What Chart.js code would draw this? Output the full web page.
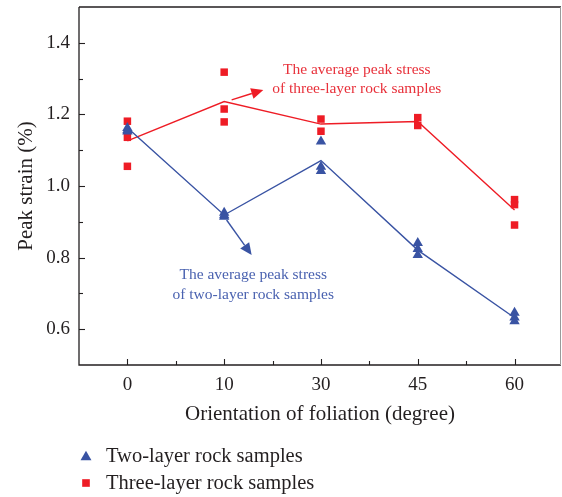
<!DOCTYPE html>
<html>
<head>
<meta charset="utf-8">
<script src="https://cdn.jsdelivr.net/npm/chart.js@4/dist/chart.umd.min.js"></script>
<style>
  html, body { margin: 0; padding: 0; background: #ffffff; }
  #wrap { width: 562px; height: 497px; position: relative; }
</style>
</head>
<body>
<div id="wrap"><canvas id="c"></canvas></div>
<script>
// Foliation orientations (degrees) shown as evenly spaced categories
const categories = ['0', '10', '30', '45', '60'];
const yTickLabels = ['0.6', '0.8', '1.0', '1.2', '1.4'];

// Individual peak strain measurements (%) per orientation
const twoLayerSamples = [
  [1.162, 1.156, 1.152],
  [0.925, 0.918, 0.914],
  [1.124, 1.054, 1.042],
  [0.841, 0.824, 0.807],
  [0.646, 0.633, 0.622]
];
const threeLayerSamples = [
  [1.181, 1.136, 1.055],
  [1.318, 1.215, 1.179],
  [1.187, 1.153],
  [1.191, 1.169],
  [0.962, 0.948, 0.891]
];

// Average peak strain lines
const twoLayerMean = [1.163, 0.919, 1.071, 0.821, 0.632];
const threeLayerMean = [1.126, 1.236, 1.173, 1.180, 0.933];

const seriesNames = ['Two-layer rock samples', 'Three-layer rock samples'];

// Callout notes: anchor in data units (x index, strain), text lines
const threeNoteAnchor = [2.37, 1.3245];
const threeNoteLines = ['The average peak stress', 'of three-layer rock samples'];
const twoNoteAnchor = [1.30, 0.751];
const twoNoteLines = ['The average peak stress', 'of two-layer rock samples'];

// Callout arrows: [from, to] in data units
const threeArrow = [[1.077, 1.2405], [1.404, 1.2685]];
const twoArrow = [[1.025, 0.905], [1.284, 0.807]];

const BLUE = '#3953a3';
const RED = '#ee1c25';
const BLUE_TEXT = '#4a62b0';
const RED_TEXT = '#e8313b';
const INK = '#231f20';
const FONT = "'Liberation Serif', 'Times New Roman', serif";

function toPoints(groups) {
  const pts = [];
  groups.forEach((vals, i) => vals.forEach(v => pts.push({ x: i, y: v })));
  return pts;
}
function toLine(vals) {
  return vals.map((v, i) => ({ x: i, y: v }));
}

function drawMarker(ctx, style, r, x, y, color) {
  ctx.save();
  ctx.fillStyle = color;
  ctx.beginPath();
  if (style === 'triangle') {
    ctx.moveTo(x, y - r);
    ctx.lineTo(x + r * Math.sqrt(3) / 2, y + r / 2);
    ctx.lineTo(x - r * Math.sqrt(3) / 2, y + r / 2);
    ctx.closePath();
  } else {
    const s = r * Math.SQRT1_2;
    ctx.rect(x - s, y - s, 2 * s, 2 * s);
  }
  ctx.fill();
  ctx.restore();
}

function drawArrow(ctx, x0, y0, x1, y1, color) {
  const ang = Math.atan2(y1 - y0, x1 - x0);
  const headLen = 12, headHalf = 5.5;
  const bx = x1 - headLen * Math.cos(ang), by = y1 - headLen * Math.sin(ang);
  ctx.save();
  ctx.strokeStyle = color;
  ctx.fillStyle = color;
  ctx.lineWidth = 1.4;
  ctx.beginPath();
  ctx.moveTo(x0, y0);
  ctx.lineTo(bx, by);
  ctx.stroke();
  ctx.beginPath();
  ctx.moveTo(x1, y1);
  ctx.lineTo(bx + headHalf * Math.sin(ang), by - headHalf * Math.cos(ang));
  ctx.lineTo(bx - headHalf * Math.sin(ang), by + headHalf * Math.cos(ang));
  ctx.closePath();
  ctx.fill();
  ctx.restore();
}

// Frame with inward major/minor ticks
const framePlugin = {
  id: 'frame',
  afterDraw(chart) {
    const { ctx, chartArea: a, scales } = chart;
    ctx.save();
    ctx.lineWidth = 1.3;
    ctx.strokeStyle = INK;
    ctx.beginPath();
    ctx.moveTo(a.left, a.top); ctx.lineTo(a.left, a.bottom); ctx.lineTo(a.right, a.bottom);
    ctx.moveTo(a.left, a.top); ctx.lineTo(a.right, a.top);
    ctx.stroke();
    ctx.strokeStyle = '#9a9a9a';
    ctx.lineWidth = 1;
    ctx.beginPath();
    ctx.moveTo(a.right - 0.5, a.top); ctx.lineTo(a.right - 0.5, a.bottom);
    ctx.stroke();

    ctx.strokeStyle = INK;
    ctx.lineWidth = 1.1;
    const ys = scales.y;
    ys.ticks.forEach(t => {
      if (t.value <= ys.min + 1e-6 || t.value >= ys.max - 1e-6) return;
      const major = t.label !== '';
      const py = Math.round(ys.getPixelForValue(t.value)) + 0.5;
      ctx.beginPath();
      ctx.moveTo(a.left, py); ctx.lineTo(a.left + (major ? 6 : 4), py);
      ctx.stroke();
    });
    const xs = scales.x;
    xs.ticks.forEach(t => {
      if (t.value <= xs.min + 1e-6 || t.value >= xs.max - 1e-6) return;
      const major = t.label !== '';
      const px = Math.round(xs.getPixelForValue(t.value)) + 0.5;
      ctx.beginPath();
      ctx.moveTo(px, a.bottom); ctx.lineTo(px, a.bottom - (major ? 6 : 4));
      ctx.stroke();
    });
    ctx.restore();
  }
};

// Callout arrows and notes
const notesPlugin = {
  id: 'notes',
  afterDatasetsDraw(chart) {
    const { ctx, scales: { x, y } } = chart;
    const px = p => [x.getPixelForValue(p[0]), y.getPixelForValue(p[1])];
    const [a0, a1] = [px(threeArrow[0]), px(threeArrow[1])];
    drawArrow(ctx, a0[0], a0[1], a1[0], a1[1], RED);
    const [b0, b1] = [px(twoArrow[0]), px(twoArrow[1])];
    drawArrow(ctx, b0[0], b0[1], b1[0], b1[1], BLUE);

    ctx.save();
    ctx.font = '15.5px ' + FONT;
    ctx.textAlign = 'center';
    ctx.textBaseline = 'middle';
    const t = px(threeNoteAnchor);
    ctx.fillStyle = RED_TEXT;
    threeNoteLines.forEach((s, i) => ctx.fillText(s, t[0], t[1] + i * 19));
    const w = px(twoNoteAnchor);
    ctx.fillStyle = BLUE_TEXT;
    twoNoteLines.forEach((s, i) => ctx.fillText(s, w[0], w[1] + i * 19.5));
    ctx.restore();
  }
};

// Stacked legend under the axis
const legendPlugin = {
  id: 'stackedLegend',
  afterDraw(chart) {
    const { ctx } = chart;
    const items = chart.data.datasets.filter(d => d.inLegend);
    ctx.save();
    ctx.font = '20.5px ' + FONT;
    ctx.textBaseline = 'middle';
    ctx.textAlign = 'left';
    items.forEach((d, i) => {
      const yy = chart.height - 41 + i * 27;
      const r = d.pointStyle === 'triangle' ? 6.3 : 5.4;
      drawMarker(ctx, d.pointStyle, r, 86, yy + (d.pointStyle === 'triangle' ? 1 : 0), d.backgroundColor);
      ctx.fillStyle = INK;
      ctx.fillText(d.label, 106, yy + 1);
    });
    ctx.restore();
  }
};

Chart.defaults.font.family = FONT;
Chart.defaults.color = INK;

new Chart(document.getElementById('c'), {
  type: 'scatter',
  data: {
    datasets: [
      {
        label: 'two-layer average',
        data: toLine(twoLayerMean),
        showLine: true,
        borderColor: BLUE,
        borderWidth: 1.4,
        pointRadius: 0,
        order: 3
      },
      {
        label: 'three-layer average',
        data: toLine(threeLayerMean),
        showLine: true,
        borderColor: RED,
        borderWidth: 1.4,
        pointRadius: 0,
        order: 4
      },
      {
        label: seriesNames[0],
        inLegend: true,
        data: toPoints(twoLayerSamples),
        pointStyle: 'triangle',
        pointRadius: 6,
        backgroundColor: BLUE,
        borderColor: BLUE,
        borderWidth: 0,
        order: 1
      },
      {
        label: seriesNames[1],
        inLegend: true,
        data: toPoints(threeLayerSamples),
        pointStyle: 'rect',
        pointRadius: 5.3,
        backgroundColor: RED,
        borderColor: RED,
        borderWidth: 0,
        order: 2
      }
    ]
  },
  options: {
    responsive: true,
    maintainAspectRatio: false,
    animation: false,
    events: [],
    layout: { autoPadding: false, padding: { top: 7, right: 1, bottom: 70, left: 0 } },
    plugins: { legend: { display: false }, tooltip: { enabled: false } },
    scales: {
      x: {
        type: 'linear',
        min: -0.5,
        max: 4.48,
        grid: { display: false, drawTicks: false },
        border: { display: false },
        ticks: {
          stepSize: 0.5,
          includeBounds: false,
          autoSkip: false,
          maxRotation: 0,
          padding: 9,
          font: { size: 19 },
          color: INK,
          callback: v => {
            const i = Math.round(v);
            return Math.abs(v - i) < 1e-6 && categories[i] !== undefined ? categories[i] : '';
          }
        },
        title: {
          display: true,
          text: 'Orientation of foliation (degree)',
          font: { size: 21 },
          color: INK,
          padding: 0
        },
        afterFit: s => { s.height = 62; s.paddingLeft = 0; s.paddingRight = 0; }
      },
      y: {
        min: 0.5,
        max: 1.5,
        grid: { display: false, drawTicks: false },
        border: { display: false },
        ticks: {
          stepSize: 0.1,
          autoSkip: false,
          padding: 9,
          font: { size: 19 },
          color: INK,
          callback: v => {
            const lab = yTickLabels.find(l => Math.abs(parseFloat(l) - v) < 1e-6);
            return lab || '';
          }
        },
        title: {
          display: true,
          text: 'Peak strain (%)',
          font: { size: 21 },
          color: INK,
          padding: { top: 14, bottom: 0 }
        },
        afterFit: s => { s.width = 79; s.paddingTop = 0; s.paddingBottom = 0; }
      }
    }
  },
  plugins: [framePlugin, notesPlugin, legendPlugin]
});
</script>
</body>
</html>
